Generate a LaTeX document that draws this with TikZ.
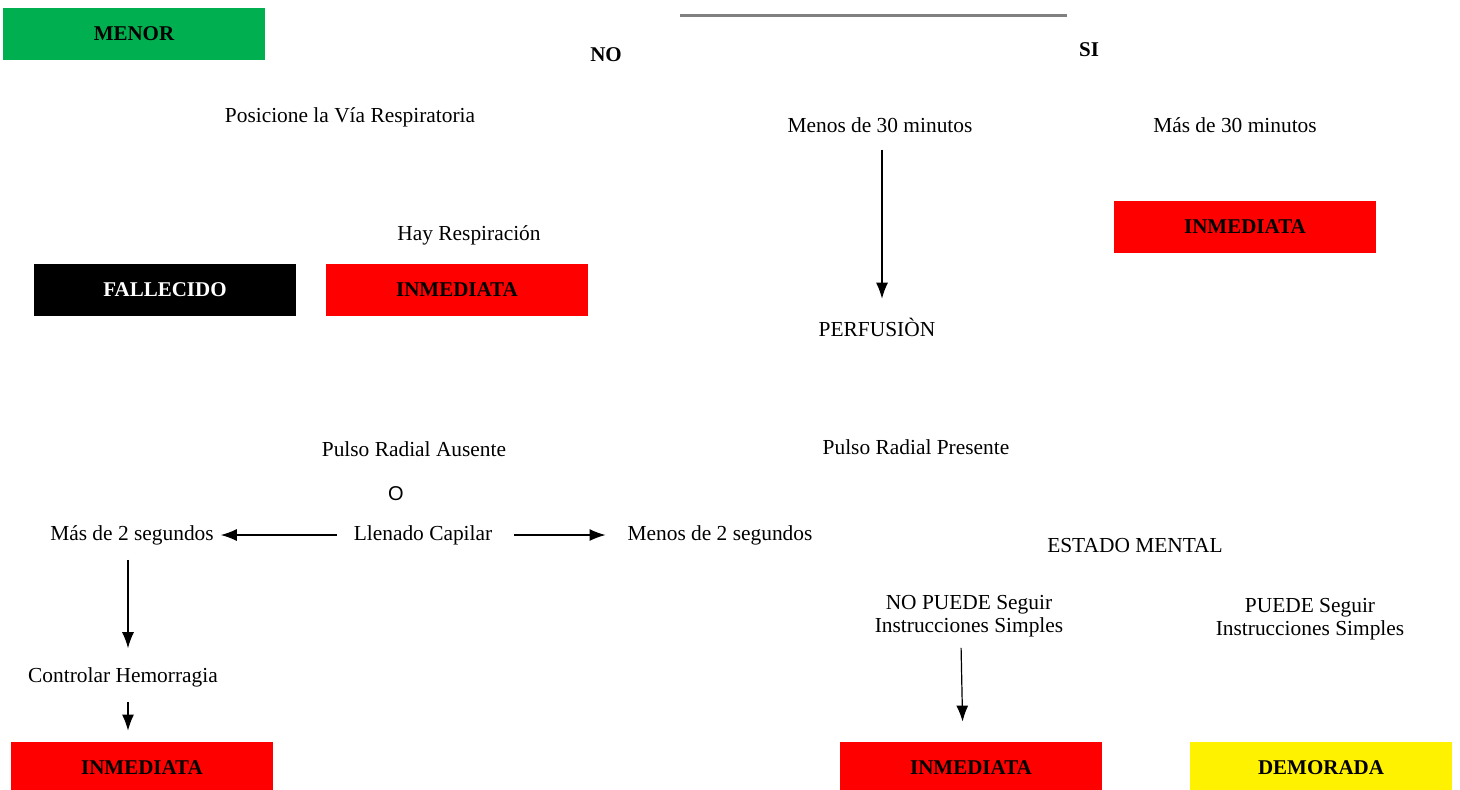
\documentclass[tikz,border=0pt]{standalone}
\usepackage{fontspec}
\usetikzlibrary{arrows.meta}
\setmainfont{Liberation Serif}
\setsansfont{Liberation Sans}
\definecolor{verde}{RGB}{0,176,80}
\begin{document}
\begin{tikzpicture}[>={Latex[length=8pt,width=6pt]}, x=0.5pt, y=-0.5pt, font=\fontsize{10.7}{12.5}\selectfont,
   caja/.style={minimum width=131pt, minimum height=26pt, inner sep=0pt, font=\fontsize{10.5}{12}\selectfont\bfseries},
   flecha/.style={->, line width=.6pt}]
  \useasboundingbox (0,0) rectangle (1460,789);
  % cabecera
  \node[caja, fill=verde] (menor) at (134,34) {MENOR};
  \draw[gray, line width=1.5pt] (680,15) -- (1067,15);
  \node[font=\fontsize{10.5}{12}\selectfont\bfseries] (no) at (606,55) {NO};
  \node[font=\fontsize{10.5}{12}\selectfont\bfseries] (si) at (1089,50) {SI};
  % respiracion
  \node (posicione) at (350,117) {Posicione la Vía Respiratoria};
  \node (menos30) at (880,125) {Menos de 30 minutos};
  \node (mas30) at (1235,125) {Más de 30 minutos};
  \node[caja, fill=red] (inmA) at (1245,227) {INMEDIATA};
  \node (hay) at (469,235) {Hay Respiración};
  \node[caja, fill=black, text=white] (fallecido) at (165,290) {FALLECIDO};
  \node[caja, fill=red] (inmB) at (457,290) {INMEDIATA};
  \node (perfusion) at (877,327) {PERFUSIÒN};
  \draw[flecha, shorten <=5pt, shorten >=6pt] (menos30.south -| 882,0) -- (perfusion.north -| 882,0);
  % perfusion
  \node (ausente) at (414,449) {Pulso Radial Ausente};
  \node (presente) at (916,447) {Pulso Radial Presente};
  \node[font=\fontsize{10}{12}\selectfont\sffamily] (o) at (396,494) {O};
  \node (llenado) at (423,535) {Llenado Capilar};
  \node (mas2) at (132,535) {Más de 2 segundos};
  \node (menos2) at (720,535) {Menos de 2 segundos};
  \draw[flecha, shorten <=5pt] (llenado) -- (mas2);
  \draw[flecha, shorten <=7.5pt, shorten >=7.5pt] (llenado) -- (menos2);
  \node (controlar) at (123,677) {Controlar Hemorragia};
  \node[caja, fill=red] (inmC) at (142,768) {INMEDIATA};
  \draw[flecha, shorten <=4pt, shorten >=6pt] (mas2.south -| 128,0) -- (controlar.north -| 128,0);
  \draw[flecha, shorten <=4pt, shorten >=5.5pt] (controlar.south -| 128,0) -- (inmC.north -| 128,0);
  % estado mental
  \node (estado) at (1135,546) {ESTADO MENTAL};
  \node[align=center, font=\fontsize{10.7}{11.5}\selectfont] (nopuede) at (969,616) {NO PUEDE Seguir\\Instrucciones Simples};
  \node[align=center, font=\fontsize{10.7}{11.5}\selectfont] (puede) at (1310,619) {PUEDE Seguir\\Instrucciones Simples};
  \node[caja, fill=red] (inmD) at (971,768) {INMEDIATA};
  \node[caja, fill=yellow] (demorada) at (1321,768) {DEMORADA};
  \draw[flecha, shorten <=2pt, shorten >=10pt] (nopuede.south -| 961,0) -- (inmD.north -| 963,0);
\end{tikzpicture}
\end{document}
